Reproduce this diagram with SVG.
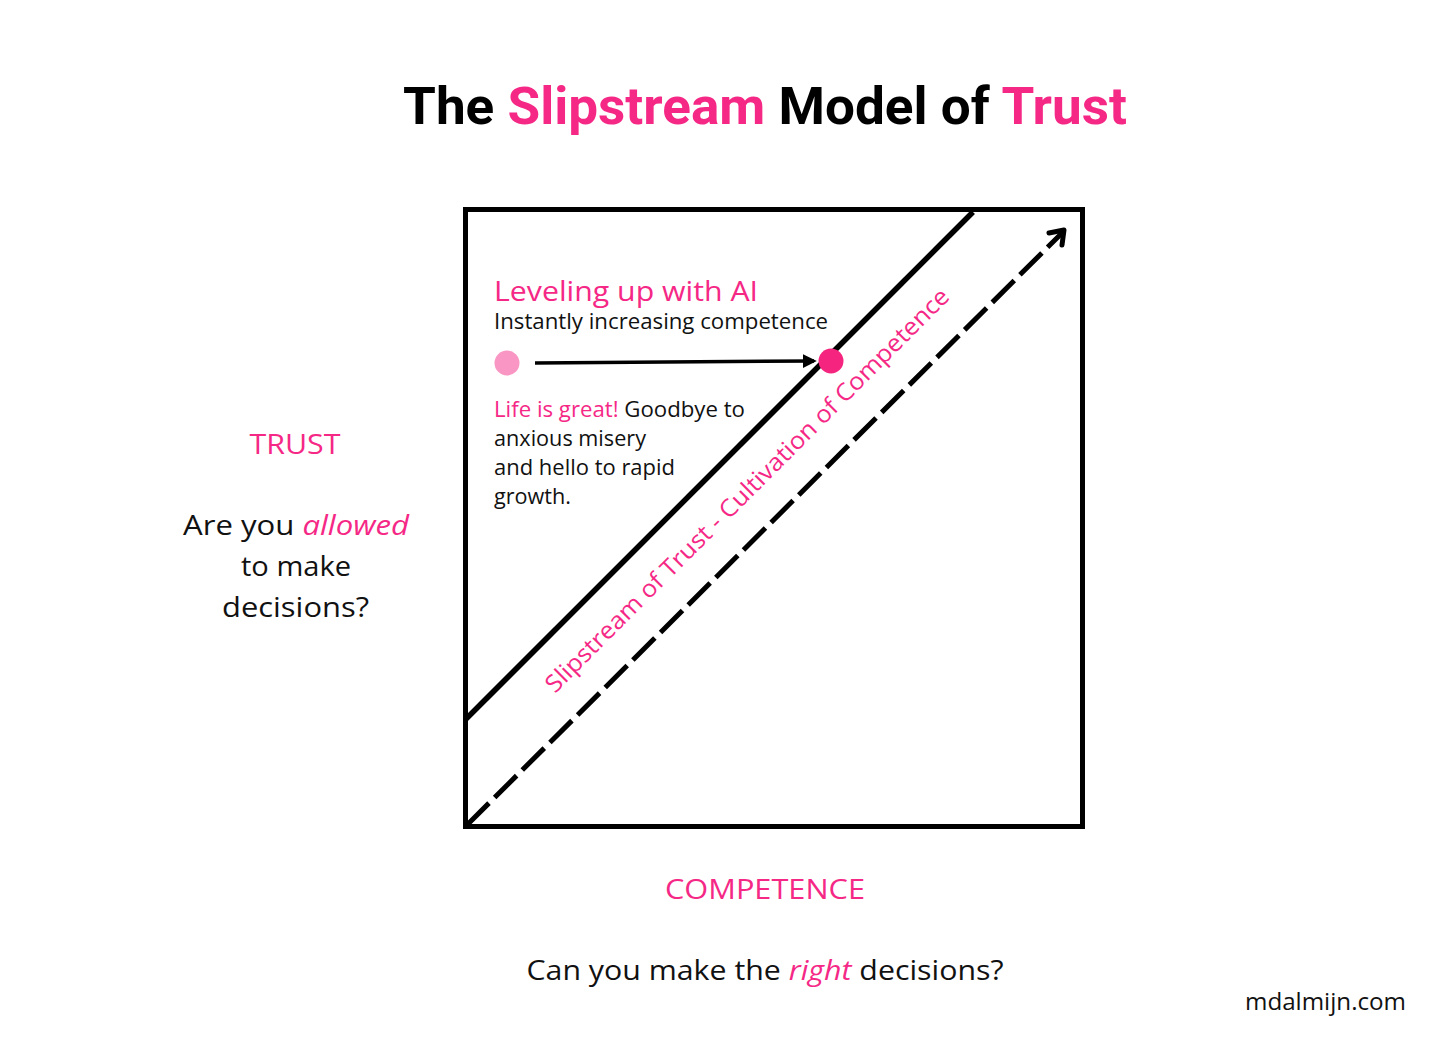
<svg xmlns="http://www.w3.org/2000/svg" width="1456" height="1048" viewBox="0 0 1456 1048">
<style>
.t{font-family:"Open Sans","Noto Sans","Liberation Sans",sans-serif;fill:#111}
.p{fill:#F52886}
.title{font-family:"Roboto","Noto Sans","Liberation Sans",sans-serif;font-weight:700;font-size:52px;fill:#000}
.i{font-style:italic}
</style>
<defs>
<marker id="tri" viewBox="0 0 10 10" refX="8" refY="5" markerWidth="4" markerHeight="4" orient="auto" markerUnits="strokeWidth">
<path d="M0,0 L10,5 L0,10 z" fill="#000"/>
</marker>
</defs>
<rect width="1456" height="1048" fill="#fff"/>
<g id="title">
<text class="title" x="765" y="124" text-anchor="middle" textLength="724" lengthAdjust="spacingAndGlyphs">The <tspan class="p">Slipstream</tspan> Model of <tspan class="p">Trust</tspan></text>
</g>
<g id="frame">
<rect x="465.5" y="209.5" width="617" height="617" fill="none" stroke="#000" stroke-width="5"/>
</g>
<g id="connectors" stroke="#000" fill="none">
<line x1="465" y1="720" x2="973" y2="212" stroke-width="5.5"/>
<line x1="467" y1="825" x2="1063" y2="232" stroke-width="5" stroke-dasharray="31 8"/>
<polyline points="1049,233 1064,230 1062,245" stroke-width="5" stroke-linecap="round" stroke-linejoin="round"/>
<line x1="535" y1="363" x2="814" y2="361" stroke-width="3.5" marker-end="url(#tri)"/>
</g>
<g id="dot-start"><circle cx="507" cy="363" r="12.5" fill="#F996C3"/></g>
<g id="dot-end"><circle cx="831" cy="361" r="12.5" fill="#F5247F"/></g>
<g id="leveling">
<text class="t p" x="494" y="301" font-size="28" textLength="264" lengthAdjust="spacingAndGlyphs">Leveling up with AI</text>
<text class="t" x="494" y="329" font-size="21" textLength="334" lengthAdjust="spacingAndGlyphs">Instantly increasing competence</text>
</g>
<g id="life">
<text class="t" x="494" y="417" font-size="21" textLength="251" lengthAdjust="spacingAndGlyphs"><tspan class="p">Life is great!</tspan> Goodbye to</text>
<text class="t" x="494" y="446" font-size="21" textLength="152" lengthAdjust="spacingAndGlyphs">anxious misery</text>
<text class="t" x="494" y="475" font-size="21" textLength="181" lengthAdjust="spacingAndGlyphs">and hello to rapid</text>
<text class="t" x="494" y="504" font-size="21" textLength="77" lengthAdjust="spacingAndGlyphs">growth.</text>
</g>
<g id="slipstream-label">
<text class="t p" x="0" y="0" font-size="24" text-anchor="middle" textLength="560" lengthAdjust="spacingAndGlyphs" transform="translate(753,496) rotate(-45)">Slipstream of Trust - Cultivation of Competence</text>
</g>
<g id="trust-axis">
<text class="t p" x="295" y="454" font-size="28" text-anchor="middle" textLength="91" lengthAdjust="spacingAndGlyphs">TRUST</text>
<text class="t" x="296" y="535" font-size="28" text-anchor="middle" textLength="226" lengthAdjust="spacingAndGlyphs">Are you <tspan class="p i">allowed</tspan></text>
<text class="t" x="296" y="576" font-size="28" text-anchor="middle" textLength="110" lengthAdjust="spacingAndGlyphs">to make</text>
<text class="t" x="295.5" y="617" font-size="28" text-anchor="middle" textLength="147" lengthAdjust="spacingAndGlyphs">decisions?</text>
</g>
<g id="competence-axis">
<text class="t p" x="765" y="899" font-size="28" text-anchor="middle" textLength="200" lengthAdjust="spacingAndGlyphs">COMPETENCE</text>
<text class="t" x="765" y="980" font-size="28" text-anchor="middle" textLength="477" lengthAdjust="spacingAndGlyphs">Can you make the <tspan class="p i">right</tspan> decisions?</text>
</g>
<g id="footer">
<text class="t" x="1406" y="1010" font-size="24" text-anchor="end" textLength="161" lengthAdjust="spacingAndGlyphs">mdalmijn.com</text>
</g>
</svg>
